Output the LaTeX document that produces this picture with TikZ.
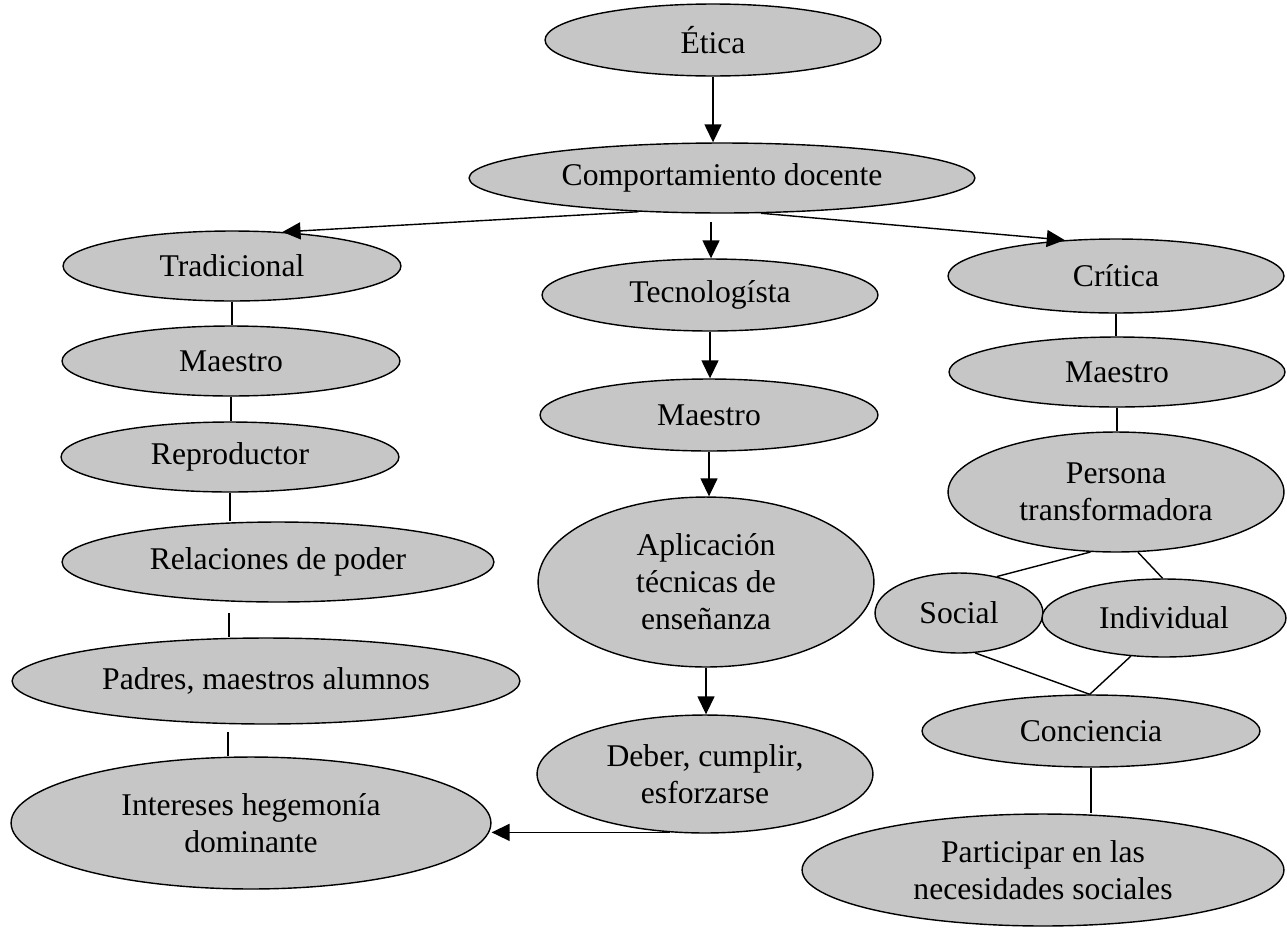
\documentclass[tikz,border=0pt]{standalone}
\usepackage{fontspec}
\setmainfont{Liberation Serif}
\usetikzlibrary{shapes.geometric,arrows.meta}
\definecolor{ellfill}{RGB}{198,198,198}
\begin{document}
\begin{tikzpicture}[x=0.02cm,y=-0.02cm,
  el/.style 2 args={ellipse,draw=black,line width=0.8pt,fill=ellfill,inner sep=0pt,align=center,
    font=\fontsize{18}{21}\selectfont,minimum width=#1*0.04cm,minimum height=#2*0.04cm},
  arr/.style={line width=0.8pt,-{Triangle[length=0.36cm,width=0.34cm]}},
  ln/.style={line width=0.8pt}]
\useasboundingbox (0,0) rectangle (1287,930);
% nodes
\node[el={168}{36}] (etica) at (713,40) {Ética};
\node[el={253}{35}] (comp) at (722,178) {Comportamiento docente};
\node[el={169}{35}] (trad) at (232,266) {Tradicional};
\node[el={169}{35}] (maestroL) at (231,361) {Maestro};
\node[el={169}{35}] (repro) at (230,457) {Reproductor};
\node[el={216}{40}] (rel) at (278,562) {Relaciones de poder};
\node[el={254}{43}] (padres) at (266,681) {Padres, maestros alumnos};
\node[el={240}{66}] (inter) at (251,823) {Intereses hegemonía\\dominante};
\node[el={168}{36}] (tecno) at (710,295) {Tecnologísta};
\node[el={169}{36}] (maestroM) at (709,415) {Maestro};
\node[el={168}{85}] (aplic) at (706,582) {Aplicación\\técnicas de\\enseñanza};
\node[el={168}{59}] (deber) at (705,774) {Deber, cumplir,\\esforzarse};
\node[el={168}{37}] (crit) at (1116,276) {Crítica};
\node[el={168}{35}] (maestroR) at (1117,372) {Maestro};
\node[el={168}{60}] (persona) at (1116,492) {Persona\\transformadora};
\node[el={84}{40}] (social) at (959,613) {Social};
\node[el={122}{39}] (indiv) at (1164,618) {Individual};
\node[el={169}{36}] (conc) at (1091,731) {Conciencia};
\node[el={241}{56}] (partic) at (1043,870) {Participar en las\\necesidades sociales};
% helper coordinates for free line ends
\coordinate (m0) at (711,222);
\coordinate (g1) at (229,613);
\coordinate (g2) at (228,732);
% connectors
\draw[arr] (etica.south) -- (etica.south |- comp.north);
\draw[arr] (comp.202) -- (trad.34);
\draw[arr] (comp.-42) -- (crit.145);
\draw[arr] (m0) -- (m0 |- tecno.north);
\draw[ln] (trad.south) -- (trad.south |- maestroL.north);
\draw[ln] (maestroL.south) -- (maestroL.south |- repro.north);
\draw[ln] (repro.south) -- (repro.south |- rel.north);
\draw[ln] (g1) -- (g1 |- padres.north);
\draw[ln] (g2) -- (g2 |- inter.north);
\draw[arr] (tecno.south) -- (tecno.south |- maestroM.north);
\draw[arr] (maestroM.south) -- (maestroM.south |- aplic.north);
\draw[arr] (aplic.south) -- (aplic.south |- deber.north);
\draw[arr] (deber.239) -- (deber.239 -| inter.east);
\draw[ln] (crit.south) -- (crit.south |- maestroR.north);
\draw[ln] (maestroR.south) -- (maestroR.south |- persona.north);
\draw[ln] (persona.247) -- (social.44);
\draw[ln] (persona.290) -- (indiv.92);
\draw[ln] (social.292) -- (conc.92);
\draw[ln] (indiv.229) -- (conc.92);
\draw[ln] (conc.south) -- (conc.south |- partic.north);
\end{tikzpicture}
\end{document}
